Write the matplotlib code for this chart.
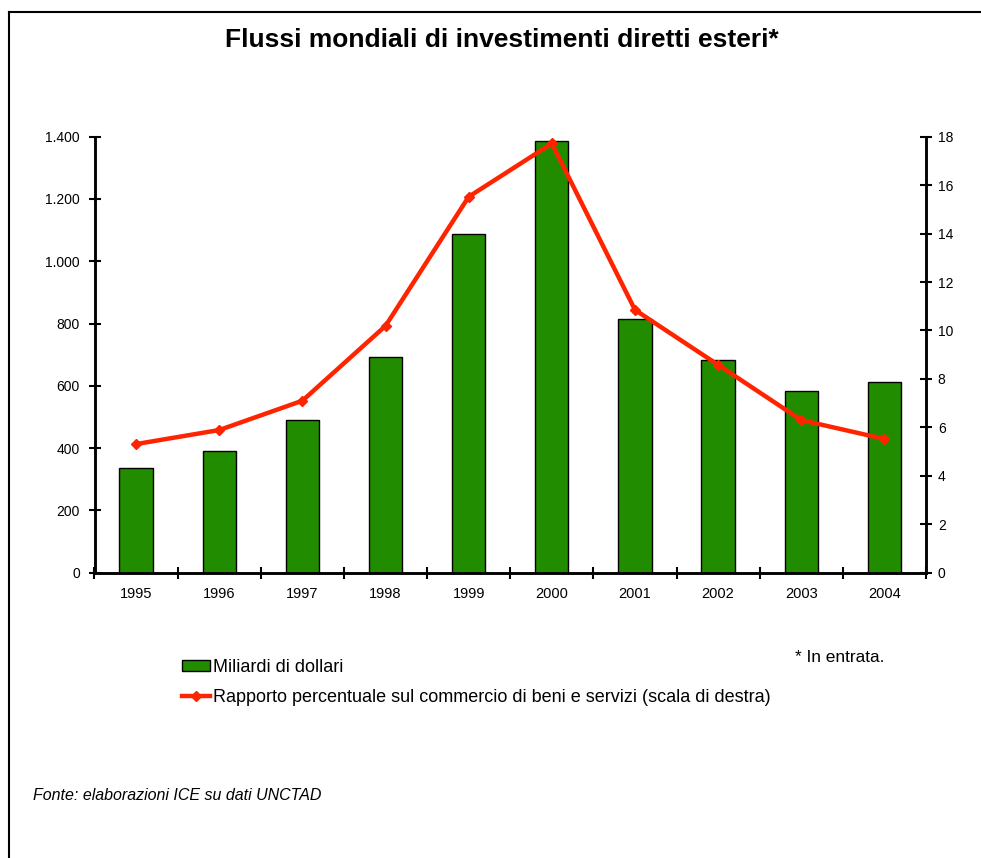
import matplotlib
matplotlib.use("Agg")
import matplotlib.pyplot as plt
from matplotlib.ticker import FuncFormatter, FixedLocator
from matplotlib.lines import Line2D
from matplotlib.patches import Patch

plt.rcParams['font.family'] = ['Liberation Sans', 'DejaVu Sans']

years = ['1995', '1996', '1997', '1998', '1999', '2000', '2001', '2002', '2003', '2004']
flows = [335, 391, 489, 693, 1089, 1386, 815, 682, 582, 612]
ratio = [5.31, 5.89, 7.1, 10.19, 15.52, 17.72, 10.85, 8.58, 6.3, 5.52]

W, H = 981, 858
fig = plt.figure(figsize=(W / 100, H / 100), dpi=100)

# frame (top and left)
fig.add_artist(Line2D([9 / W, 9 / W], [0, 1 - 12 / H], color='black', lw=1.5))
fig.add_artist(Line2D([9 / W, 1], [1 - 12 / H, 1 - 12 / H], color='black', lw=1.5))

left, right, bottom, top = 94.5 / W, 926 / W, 1 - 572.7 / H, 1 - 136.7 / H
ax = fig.add_axes([left, bottom, right - left, top - bottom])
ax2 = ax.twinx()

x = list(range(len(years)))
green = '#228C00'
red = '#FF2400'
ax.bar(x, flows, width=0.4, color=green, edgecolor='black', linewidth=1, zorder=2)
ax2.plot(x, ratio, color=red, lw=3.2, marker='D', markersize=5, zorder=3,
         solid_joinstyle='miter')

ax.set_xlim(-0.5, len(years) - 0.5)
ax.set_ylim(0, 1400)
ax2.set_ylim(0, 18)
ax.set_yticks(range(0, 1401, 200))
ax2.set_yticks(range(0, 19, 2))
ax.yaxis.set_major_formatter(FuncFormatter(lambda v, p: f"{int(v):,}".replace(',', '.')))

ax.set_xticks(x)
ax.set_xticklabels(years)
ax.xaxis.set_minor_locator(FixedLocator([i + 0.5 for i in range(-1, len(years))]))
ax.tick_params(axis='x', which='major', length=0, pad=10, labelsize=10.5)
ax.tick_params(axis='x', which='minor', direction='inout', length=9, width=1.5)
ax.tick_params(axis='y', direction='inout', length=9, width=1.5, labelsize=10, pad=6)
ax2.tick_params(axis='y', direction='inout', length=9, width=1.5, labelsize=10, pad=4)

for a in (ax, ax2):
    a.spines['top'].set_visible(False)
    for s in ('left', 'right', 'bottom'):
        a.spines[s].set_linewidth(1.8)
ax.patch.set_visible(False)

fig.text(502 / W, 1 - 40 / H, 'Flussi mondiali di investimenti diretti esteri*',
         ha='center', va='center', fontsize=19, fontweight='bold')

handles = [Patch(facecolor=green, edgecolor='black', linewidth=1),
           Line2D([], [], color=red, lw=3.2, marker='D', markersize=5)]
labels = ['Miliardi di dollari',
          'Rapporto percentuale sul commercio di beni e servizi (scala di destra)']
fig.legend(handles, labels, loc='upper left', bbox_to_anchor=(175 / W, 1 - 652 / H),
           frameon=False, fontsize=13, handlelength=1.55, handleheight=0.55,
           handletextpad=0.17, labelspacing=0.72, borderaxespad=0)

fig.text(795 / W, 1 - 658 / H, '* In entrata.', ha='left', va='center', fontsize=12.4)
fig.text(33 / W, 1 - 796 / H, 'Fonte: elaborazioni ICE su dati UNCTAD',
         ha='left', va='center', fontsize=11.5, style='italic')

fig.savefig('out.png', dpi=100)
